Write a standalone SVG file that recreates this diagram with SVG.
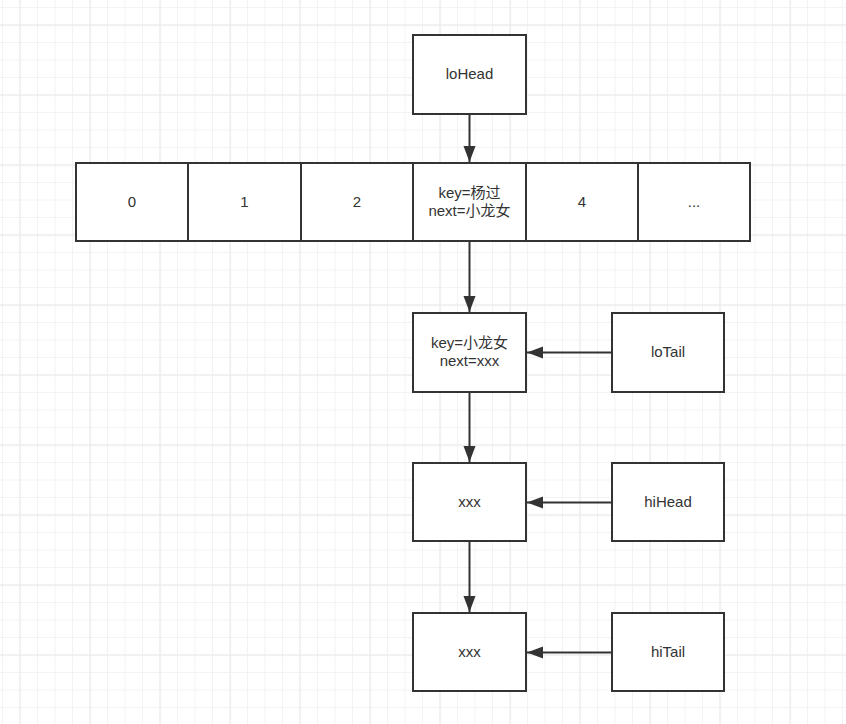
<svg xmlns="http://www.w3.org/2000/svg" width="846" height="724" viewBox="0 0 846 724">
<style>
.box{fill:#ffffff;stroke:#333333;stroke-width:2}
.t{font-family:"Liberation Sans","Noto Sans CJK SC",sans-serif;font-size:15px;fill:#333333;text-anchor:middle}
.c{stroke:#333333;stroke-width:2;fill:none}
</style>
<defs>
<pattern id="minor" patternUnits="userSpaceOnUse" x="2" y="7" width="17.5" height="17.5">
<rect x="0" y="0" width="1" height="17.5" fill="#f3f3f3"/>
<rect x="0" y="0" width="17.5" height="1" fill="#f3f3f3"/>
</pattern>
<pattern id="major" patternUnits="userSpaceOnUse" x="19.5" y="24.5" width="70" height="70">
<rect x="0" y="0" width="1.2" height="70" fill="#ebebeb"/>
<rect x="0" y="0" width="70" height="1.2" fill="#ebebeb"/>
</pattern>
<marker id="arr" markerUnits="userSpaceOnUse" markerWidth="18" markerHeight="14" refX="16" refY="7" orient="auto">
<path d="M0,1 L16,7 L0,13 Z" fill="#333333"/>
</marker>
</defs>
<rect width="846" height="724" fill="#ffffff"/>
<rect width="846" height="724" fill="url(#minor)"/>
<rect width="846" height="724" fill="url(#major)"/>
<g id="connectors">
<line class="c" x1="469.5" y1="115" x2="469.5" y2="162" marker-end="url(#arr)"/>
<line class="c" x1="469.5" y1="242" x2="469.5" y2="312" marker-end="url(#arr)"/>
<line class="c" x1="469.5" y1="392" x2="469.5" y2="462" marker-end="url(#arr)"/>
<line class="c" x1="469.5" y1="542" x2="469.5" y2="612" marker-end="url(#arr)"/>
<line class="c" x1="611" y1="352.5" x2="527" y2="352.5" marker-end="url(#arr)"/>
<line class="c" x1="611" y1="502.5" x2="527" y2="502.5" marker-end="url(#arr)"/>
<line class="c" x1="611" y1="652.5" x2="527" y2="652.5" marker-end="url(#arr)"/>
</g>
<g id="loHead"><rect class="box" x="413" y="35" width="113" height="79"/><text class="t" x="469.5" y="79">loHead</text></g>
<g id="cell0"><rect class="box" x="76" y="163" width="112" height="78"/><text class="t" x="132" y="207">0</text></g>
<g id="cell1"><rect class="box" x="188" y="163" width="113" height="78"/><text class="t" x="244.5" y="207">1</text></g>
<g id="cell2"><rect class="box" x="301" y="163" width="112" height="78"/><text class="t" x="357" y="207">2</text></g>
<g id="cell3"><rect class="box" x="413" y="163" width="113" height="78"/><text class="t" x="469.5" y="198">key=杨过</text><text class="t" x="469.5" y="216">next=小龙女</text></g>
<g id="cell4"><rect class="box" x="526" y="163" width="112" height="78"/><text class="t" x="582" y="207">4</text></g>
<g id="cell5"><rect class="box" x="638" y="163" width="112" height="78"/><text class="t" x="694" y="207">...</text></g>
<g id="node1"><rect class="box" x="413" y="313" width="113" height="79"/><text class="t" x="469.5" y="348">key=小龙女</text><text class="t" x="469.5" y="366">next=xxx</text></g>
<g id="loTail"><rect class="box" x="612" y="313" width="112" height="79"/><text class="t" x="668" y="357">loTail</text></g>
<g id="node2"><rect class="box" x="413" y="463" width="113" height="78"/><text class="t" x="469.5" y="507">xxx</text></g>
<g id="hiHead"><rect class="box" x="612" y="463" width="112" height="78"/><text class="t" x="668" y="507">hiHead</text></g>
<g id="node3"><rect class="box" x="413" y="613" width="113" height="78"/><text class="t" x="469.5" y="657">xxx</text></g>
<g id="hiTail"><rect class="box" x="612" y="613" width="112" height="78"/><text class="t" x="668" y="657">hiTail</text></g>
</svg>
